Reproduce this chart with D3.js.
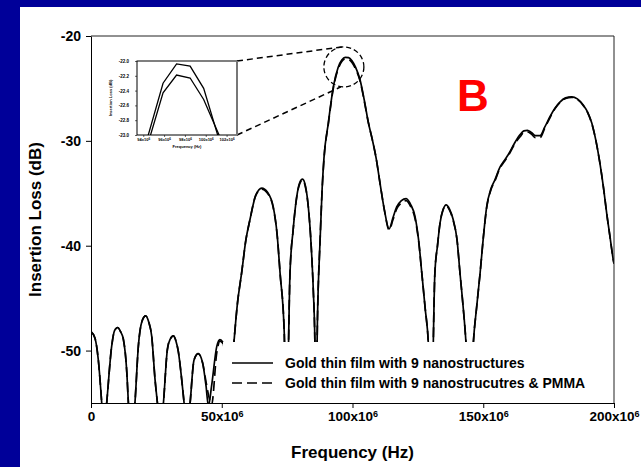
<!DOCTYPE html>
<html lang="en">
<head>
    <meta charset="UTF-8">
    <title>Insertion Loss</title>
    <script src="https://cdnjs.cloudflare.com/ajax/libs/d3/7.8.5/d3.min.js"></script>
    <style>
        body { margin: 0; background: #000099; }
        svg { display: block; }
    </style>
</head>
<body>
<script>
    // main chart values, frequency in MHz, loss in dB
    const freqMHz = [0, 1.5, 2.8, 4.1, 4.9, 6.0, 7.9, 9.0, 10.2, 11.3, 12.4, 13.7, 14.3, 15.5, 16.8, 18.1, 19.5, 20.9, 22.1, 23.2, 24.5, 25.4, 26.5, 27.7, 29.2, 30.3, 31.5, 32.5, 33.4, 34.7, 35.6, 36.7, 37.9, 39.4, 41.0, 42.7, 44.0, 44.9, 46.1, 48.1, 49.3, 50.4, 51.5, 52.6, 53.5, 54.7, 56.0, 57.6, 59.2, 60.8, 63.0, 65.3, 67.5, 69.7, 71.2, 72.3, 73.9, 74.7, 76.1, 77.3, 78.7, 79.8, 80.9, 82.0, 83.1, 84.2, 85.0, 85.6, 86.0, 86.6, 87.6, 88.4, 89.1, 90.75, 92.7, 94.5, 95.9, 97.2, 98.5, 99.8, 101.2, 102.9, 104.5, 106.1, 107.6, 109.0, 110.5, 112.2, 114.0, 115.5, 116.9, 118.7, 120.5, 122.3, 123.9, 125.3, 126.5, 127.8, 129.0, 130.1, 131.5, 132.5, 133.5, 134.6, 135.8, 137.1, 138.5, 140.0, 141.1, 142.3, 143.4, 144.8, 146.2, 147.5, 148.8, 150.0, 151.3, 152.9, 154.5, 156.4, 158.0, 159.6, 162.0, 164.1, 165.5, 166.9, 168.4, 170.0, 171.7, 173.5, 175.5, 177.4, 179.3, 181.5, 183.8, 186.0, 188.3, 190.0, 191.5, 193.1, 194.6, 196.0, 197.2, 198.5, 199.7, 200]
    const lossGold = [-48.2, -48.8, -50.9, -55.0, -58, -55.0, -49.6, -48.1, -47.8, -48.2, -48.95, -52.1, -55, -58, -55, -49.6, -47.2, -46.7, -47.3, -48.6, -52.8, -55, -58, -55, -49.9, -48.9, -48.6, -49.1, -50.1, -52.8, -55, -58, -55, -50.9, -50.3, -51.2, -53.4, -55.3, -53.4, -49.6, -48.95, -49.2, -51.5, -57, -53, -49.1, -45.5, -42.6, -39.5, -37.5, -35.2, -34.5, -34.9, -36.3, -39.0, -42.6, -48.3, -58, -42.6, -38.5, -35.3, -34.0, -33.65, -34.3, -36.3, -40.0, -44.2, -49, -57, -47, -39.5, -34.5, -31.6, -28.3, -24.8, -23.0, -22.30, -22.04, -22.07, -22.37, -23.0, -24.2, -26.1, -28.3, -29.9, -31.6, -34.0, -36.6, -38.4, -37.3, -36.3, -35.7, -35.5, -36.1, -37.2, -39.5, -42.6, -46, -49.3, -57, -42.6, -40.0, -37.8, -36.6, -36.1, -36.5, -37.5, -39.5, -42.6, -45.8, -49.3, -57, -49.3, -45.8, -42.6, -39.3, -36.3, -34.6, -33.7, -32.5, -31.9, -31.3, -30.2, -29.4, -29.05, -29.0, -29.2, -29.5, -29.5, -28.7, -27.7, -26.9, -26.3, -25.9, -25.8, -26.0, -26.6, -27.3, -28.3, -30.0, -32.1, -34.5, -36.9, -39.2, -41.3, -41.7]
    const lossPmma = [-48.2, -48.8, -50.9, -55.0, -58, -55.0, -49.6, -48.1, -47.8, -48.2, -48.95, -52.1, -55, -58, -55, -49.6, -47.2, -46.7, -47.3, -48.6, -52.8, -55, -58, -55, -49.9, -48.9, -48.6, -49.1, -50.1, -52.8, -55, -58, -55, -50.9, -50.3, -51.2, -53.0, -54.2, -55.2, -50.2, -49.1, -49.3, -51.5, -57, -53, -49.1, -45.5, -42.6, -39.5, -37.5, -35.2, -34.6, -35.0, -36.4, -39.0, -42.6, -48.3, -58, -42.6, -38.5, -35.3, -34.1, -33.75, -34.4, -36.3, -40.0, -44.2, -49, -57, -47, -39.5, -34.6, -31.7, -28.4, -24.95, -23.15, -22.43, -22.19, -22.23, -22.52, -23.15, -24.3, -26.2, -28.3, -29.9, -31.6, -34.0, -36.6, -38.5, -37.5, -36.5, -35.9, -35.7, -36.3, -37.4, -39.6, -42.6, -46, -49.3, -57, -42.6, -40.0, -37.8, -36.6, -36.2, -36.6, -37.6, -39.5, -42.6, -45.8, -49.3, -57, -49.3, -45.8, -42.6, -39.3, -36.4, -34.7, -33.8, -32.6, -32.0, -31.4, -30.3, -29.6, -29.2, -29.15, -29.35, -29.7, -29.7, -28.8, -27.8, -26.95, -26.35, -25.95, -25.85, -26.05, -26.65, -27.35, -28.35, -30.0, -32.1, -34.5, -36.9, -39.2, -41.3, -41.7]
    const xTicks = [0, 50, 100, 150, 200]
    const yTicks = [-20, -30, -40, -50]
    const seriesNames = ['Gold thin film with 9 nanostructures', 'Gold thin film with 9 nanostrucutres & PMMA']

    // zoomed inset around the main peak
    const insetFreq = [94.3, 95.9, 97.2, 98.5, 99.8, 101.4]
    const insetGold = [-23.09, -22.30, -22.04, -22.07, -22.37, -23.12]
    const insetPmma = [-23.19, -22.43, -22.19, -22.23, -22.52, -23.04]
    const insetXTicks = [94, 96, 98, 100, 102]
    const insetYTicks = [-22.0, -22.2, -22.4, -22.6, -22.8, -23.0]

    const W = 641, H = 467
    const font = 'Arial, "Liberation Sans", sans-serif'
    const svg = d3.select('body').append('svg').attr('width', W).attr('height', H)
        .style('font-family', font)

    svg.append('rect').attr('x', 20).attr('y', 7).attr('width', W - 20).attr('height', H - 7).attr('fill', '#fff')

    const pL = 91, pR = 614, pT = 36, pB = 403
    const x = d3.scaleLinear().domain([0, 200]).range([pL, pR])
    const y = d3.scaleLinear().domain([-55, -20]).range([pB, pT])

    svg.append('clipPath').attr('id', 'plotClip').append('rect')
        .attr('x', pL).attr('y', pT).attr('width', pR - pL).attr('height', pB - pT)

    const line = d3.line().x(d => x(d[0])).y(d => y(d[1])).curve(d3.curveMonotoneX)
    const plot = svg.append('g').attr('clip-path', 'url(#plotClip)')
    plot.append('path').datum(freqMHz.map((f, i) => [f, lossPmma[i]]))
        .attr('d', line).attr('fill', 'none').attr('stroke', '#000').attr('stroke-width', 1.7)
        .attr('stroke-dasharray', '10,5')
    plot.append('path').datum(freqMHz.map((f, i) => [f, lossGold[i]]))
        .attr('d', line).attr('fill', 'none').attr('stroke', '#000').attr('stroke-width', 1.7)

    // legend box hides the curves beneath it
    svg.append('rect').attr('x', 223).attr('y', 342).attr('width', pR - 223).attr('height', pB - 342 + 2).attr('fill', '#fff')

    // frame
    svg.append('path').attr('d', `M${pL},${pT}H${pR}V${pB}`).attr('fill', 'none').attr('stroke', '#222').attr('stroke-width', 1)

    const xAxis = svg.append('g').attr('transform', `translate(0,${pB})`)
        .call(d3.axisBottom(x).tickValues(xTicks).tickSize(5).tickSizeOuter(0).tickFormat(''))
    xAxis.selectAll('.tick').append('text')
        .attr('y', 18).attr('text-anchor', 'middle').attr('fill', '#000')
        .style('font-size', '13.5px').style('font-weight', 'bold').style('font-family', font)
        .each(function (d) {
            const t = d3.select(this)
            if (d === 0) { t.text('0'); return }
            t.append('tspan').text(d + 'x10')
            t.append('tspan').attr('dy', '-0.45em').style('font-size', '9px').text('6')
        })

    const yAxis = svg.append('g').attr('transform', `translate(${pL},0)`)
        .call(d3.axisLeft(y).tickValues(yTicks).tickSize(5).tickSizeOuter(0).tickPadding(5).tickFormat(d => String(d)))
    yAxis.selectAll('text').style('font-size', '14px').style('font-weight', 'bold').style('font-family', font).attr('fill', '#000')
    svg.selectAll('.domain, .tick line').attr('stroke', '#000')

    svg.append('text').attr('x', (pL + pR) / 2).attr('y', 458).attr('text-anchor', 'middle')
        .style('font-size', '17px').style('font-weight', 'bold').text('Frequency (Hz)')
    svg.append('text').attr('transform', `translate(41,${(pT + pB) / 2}) rotate(-90)`).attr('text-anchor', 'middle')
        .style('font-size', '17px').style('font-weight', 'bold').text('Insertion Loss (dB)')

    const legend = svg.append('g')
    seriesNames.forEach((name, i) => {
        const ly = 363 + i * 20
        legend.append('line').attr('x1', 232).attr('x2', 273).attr('y1', ly).attr('y2', ly)
            .attr('stroke', '#000').attr('stroke-width', 1.5).attr('stroke-dasharray', i ? '10,5' : null)
        legend.append('text').attr('x', 285).attr('y', ly + 5)
            .style('font-size', '14px').style('font-weight', 'bold').text(name)
    })

    // "B" panel label
    svg.append('text').attr('x', 457).attr('y', 111).attr('fill', '#ff0000')
        .style('font-size', '44px').style('font-weight', 'bold').text('B')

    // zoom circle on the peak and connector lines
    const cx = x(96.7), cy = y(-22.95)
    svg.append('ellipse').attr('cx', cx).attr('cy', cy).attr('rx', 20).attr('ry', 20)
        .attr('fill', 'none').attr('stroke', '#000').attr('stroke-width', 1.3).attr('stroke-dasharray', '5,3')

    // inset
    const iL = 137, iR = 237, iT = 61, iB = 135
    const ix = d3.scaleLinear().domain([93.4, 103.0]).range([iL, iR])
    const iy = d3.scaleLinear().domain([-23, -22]).range([iB, iT])
    svg.append('line').attr('x1', iR).attr('y1', iT).attr('x2', cx - 2).attr('y2', cy - 20)
        .attr('stroke', '#000').attr('stroke-width', 1.5).attr('stroke-dasharray', '6,4')
    svg.append('line').attr('x1', iR).attr('y1', iB).attr('x2', cx - 3).attr('y2', cy + 20)
        .attr('stroke', '#000').attr('stroke-width', 1.5).attr('stroke-dasharray', '6,4')

    svg.append('clipPath').attr('id', 'insetClip').append('rect')
        .attr('x', iL).attr('y', iT).attr('width', iR - iL).attr('height', iB - iT)
    const inset = svg.append('g')
    const iline = d3.line().x(d => ix(d[0])).y(d => iy(d[1]))
    const ig = inset.append('g').attr('clip-path', 'url(#insetClip)')
    ;[insetGold, insetPmma].forEach(vals => {
        ig.append('path').datum(insetFreq.map((f, i) => [f, vals[i]]))
            .attr('d', iline).attr('fill', 'none').attr('stroke', '#000').attr('stroke-width', 1.3)
    })
    inset.append('rect').attr('x', iL).attr('y', iT).attr('width', iR - iL).attr('height', iB - iT)
        .attr('fill', 'none').attr('stroke', '#000').attr('stroke-width', 1)
    inset.append('line').attr('x1', iR).attr('x2', iR).attr('y1', iT).attr('y2', iB).attr('stroke', '#777').attr('stroke-width', 2)

    const ixAxis = inset.append('g').attr('transform', `translate(0,${iB})`)
        .call(d3.axisBottom(ix).tickValues(insetXTicks).tickSize(2).tickSizeOuter(0).tickFormat(''))
    ixAxis.selectAll('.tick').append('text').attr('y', 6).attr('text-anchor', 'middle').attr('fill', '#000')
        .style('font-size', '4px').style('font-weight', 'bold').style('font-family', font)
        .each(function (d) {
            const t = d3.select(this)
            t.append('tspan').text(d + 'x10')
            t.append('tspan').attr('dy', '-0.45em').style('font-size', '3px').text('6')
        })
    const iyAxis = inset.append('g').attr('transform', `translate(${iL},0)`)
        .call(d3.axisLeft(iy).tickValues(insetYTicks).tickSize(2).tickSizeOuter(0).tickPadding(6).tickFormat(d => d.toFixed(1)))
    iyAxis.selectAll('text').style('font-size', '4.5px').style('font-weight', 'bold').style('font-family', font).attr('fill', '#000')
    inset.selectAll('.domain').remove()
    inset.selectAll('.tick line').attr('stroke', '#000').attr('stroke-width', 0.6)
    inset.append('text').attr('x', (iL + iR) / 2).attr('y', 148).attr('text-anchor', 'middle')
        .style('font-size', '4px').style('font-weight', 'bold').text('Frequency (Hz)')
    inset.append('text').attr('transform', `translate(112,${(iT + iB) / 2}) rotate(-90)`).attr('text-anchor', 'middle')
        .style('font-size', '4px').style('font-weight', 'bold').text('Insertion Loss (dB)')
</script>
</body>
</html>
